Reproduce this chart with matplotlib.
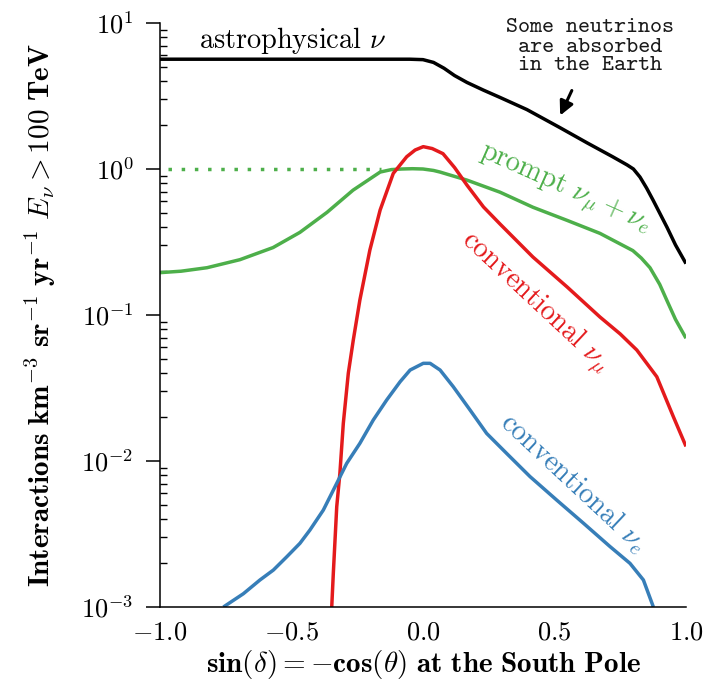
import matplotlib
matplotlib.use("Agg")
import matplotlib.pyplot as plt
import numpy as np

plt.rcParams['mathtext.fontset'] = 'cm'
plt.rcParams['axes.formatter.use_mathtext'] = True

# ---- data (y values as log10) ----
astro_x = [-1.0, -0.5, -0.05, 0.0, 0.04, 0.08, 0.12, 0.167, 0.23, 0.293, 0.395, 0.521, 0.624, 0.72,
           0.776, 0.80, 0.825, 0.85, 0.875, 0.928, 0.96, 1.0]
astro_logy = [0.752, 0.752, 0.752, 0.749, 0.730, 0.690, 0.640, 0.593, 0.54, 0.490, 0.407, 0.283, 0.179, 0.085,
              0.028, 0.0, -0.055, -0.13, -0.214, -0.40, -0.52, -0.648]

prompt_x = [-1.0, -0.92, -0.821, -0.696, -0.570, -0.468, -0.365, -0.266, -0.163, -0.12, -0.08, -0.04, 0.0,
            0.04, 0.065, 0.1, 0.167, 0.293, 0.418, 0.548, 0.673, 0.798, 0.83, 0.863, 0.9, 0.928, 0.96, 1.0]
prompt_logy = [-0.71, -0.70, -0.676, -0.621, -0.538, -0.434, -0.297, -0.145, -0.021, -0.004, 0.0, 0.002, 0.0,
               -0.01, -0.021, -0.04, -0.076, -0.159, -0.262, -0.352, -0.441, -0.559, -0.61, -0.676, -0.79,
               -0.903, -1.03, -1.159]

prompt_flat_x = [-1.0, -0.16]
prompt_flat_logy = [0.0, 0.0]

numu_x = [-0.347, -0.341, -0.328, -0.316, -0.303, -0.284, -0.265, -0.240, -0.202, -0.163, -0.113, -0.062,
          -0.03, 0.001, 0.035, 0.076, 0.12, 0.167, 0.23, 0.293, 0.418, 0.548, 0.673, 0.75, 0.813, 0.889,
          0.952, 1.0]
numu_logy = [-3.0, -2.769, -2.313, -2.084, -1.742, -1.399, -1.171, -0.897, -0.555, -0.281, -0.03, 0.084,
             0.13, 0.153, 0.14, 0.105, 0.01, -0.110, -0.26, -0.377, -0.603, -0.808, -1.014, -1.13, -1.240,
             -1.423, -1.697, -1.90]

nue_x = [-0.759, -0.683, -0.620, -0.569, -0.518, -0.468, -0.430, -0.379, -0.328, -0.290, -0.240, -0.189,
         -0.138, -0.087, -0.049, 0.001, 0.027, 0.065, 0.115, 0.179, 0.242, 0.318, 0.407, 0.508, 0.610, 0.711,
         0.787, 0.838, 0.876]
nue_logy = [-3.0, -2.909, -2.815, -2.747, -2.656, -2.564, -2.473, -2.336, -2.153, -2.016, -1.879, -1.719,
            -1.582, -1.457, -1.377, -1.331, -1.331, -1.377, -1.491, -1.651, -1.811, -1.948, -2.107, -2.267,
            -2.426, -2.586, -2.701, -2.815, -3.0]

xticks = [-1.0, -0.5, 0.0, 0.5, 1.0]
xticklabels = [r'$\mathbf{-1.0}$', r'$\mathbf{-0.5}$', r'$\mathbf{0.0}$', r'$\mathbf{0.5}$', r'$\mathbf{1.0}$']
yticks = [1e-3, 1e-2, 1e-1, 1e0, 1e1]
yticklabels = [r'$\mathbf{10^{-3}}$', r'$\mathbf{10^{-2}}$', r'$\mathbf{10^{-1}}$', r'$\mathbf{10^{0}}$', r'$\mathbf{10^{1}}$']

BLACK = 'black'
GREEN = '#4daf4a'
RED = '#e41a1c'
BLUE = '#377eb8'

fig = plt.figure(figsize=(7.26, 6.89), dpi=100)
ax = fig.add_axes([160/726, 1-607/689, 526/726, 584/689])

lw = 2.5
kw = dict(lw=lw, solid_joinstyle='round', solid_capstyle='butt')
ax.plot(astro_x, 10**np.array(astro_logy), color=BLACK, **kw)
ax.plot(prompt_x, 10**np.array(prompt_logy), color=GREEN, **kw)
ax.plot(prompt_flat_x, 10**np.array(prompt_flat_logy), color=GREEN, lw=lw, ls=(1.5, (1, 2.8)))
ax.plot(numu_x, 10**np.array(numu_logy), color=RED, **kw)
ax.plot(nue_x, 10**np.array(nue_logy), color=BLUE, **kw)

ax.set_yscale('log')
ax.set_xlim(-1, 1)
ax.set_ylim(1e-3, 1e1)
ax.set_xticks(xticks)
ax.set_xticklabels(xticklabels, fontsize=19)
ax.set_yticks(yticks)
ax.set_yticklabels(yticklabels, fontsize=19)
ax.tick_params(axis='x', length=0, pad=9)
ax.tick_params(axis='y', which='major', direction='out', length=10, width=1.1, pad=9)
ax.tick_params(axis='y', which='minor', direction='in', length=5, width=1.0)
for s in ['top', 'right']:
    ax.spines[s].set_visible(False)
for s in ['left', 'bottom']:
    ax.spines[s].set_linewidth(1.1)

ax.set_xlabel(r'$\mathbf{sin}(\delta) = -\mathbf{cos}(\theta)\ \mathbf{at\ the\ South\ Pole}$', fontsize=21)
ax.set_ylabel(r'$\mathbf{Interactions\ km^{-3}\ sr^{-1}\ yr^{-1}}\ E_\nu > \mathbf{100\ TeV}$', fontsize=21)
ax.xaxis.set_label_coords(0.5, (607-648)/584)
ax.yaxis.set_label_coords((58-160)/526, 0.5)

tfs = 20.4
ax.text(293/726, 1-40/689, r'astrophysical $\nu$', transform=fig.transFigure, family='cmr10',
        fontsize=tfs, ha='center', va='center', color=BLACK)
ax.text(565/726, 1-190/689, r'prompt $\nu_\mu + \nu_e$', transform=fig.transFigure, family='cmr10',
        fontsize=tfs, ha='center', va='center', color=GREEN, rotation=-24, rotation_mode='anchor')
ax.text(535/726, 1-303/689, r'conventional $\nu_\mu$', transform=fig.transFigure, family='cmr10',
        fontsize=tfs, ha='center', va='center', color=RED, rotation=-43, rotation_mode='anchor')
ax.text(574/726, 1-483/689, r'conventional $\nu_e$', transform=fig.transFigure, family='cmr10',
        fontsize=tfs, ha='center', va='center', color=BLUE, rotation=-43, rotation_mode='anchor')

ax.text(590/726, 1-47/689, 'Some neutrinos\nare absorbed\nin the Earth', transform=fig.transFigure,
        family='cmtt10', fontsize=16.5, ha='center', va='center', linespacing=1.0, color='#1a1a1a')
ax.annotate('', xy=(559/726, 1-118/689), xytext=(573/726, 1-88/689), xycoords='figure fraction',
            textcoords='figure fraction',
            arrowprops=dict(arrowstyle='-|>,head_width=0.3,head_length=0.6', color='black', lw=2.2,
                            mutation_scale=14))

fig.savefig('out.png', dpi=100)
